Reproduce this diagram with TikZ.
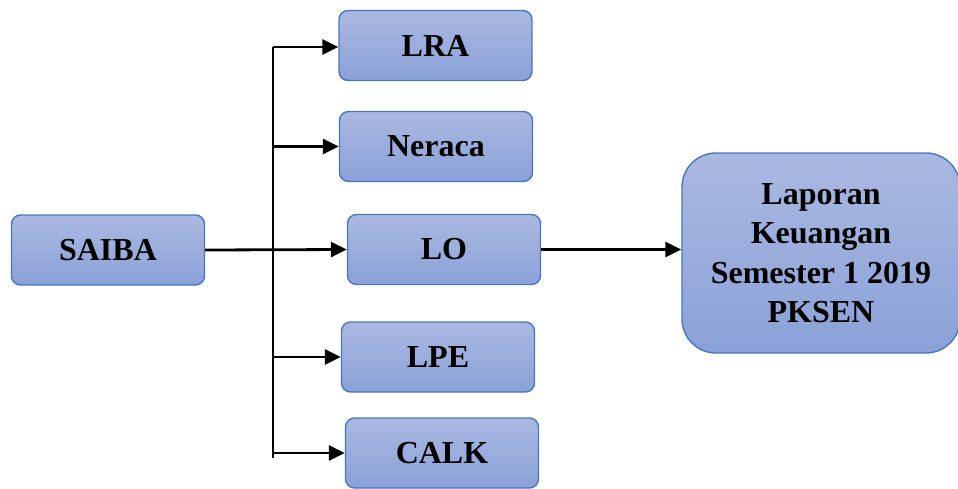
\documentclass[tikz,border=0pt]{standalone}
\usepackage{fontspec}
\setmainfont{Liberation Serif}
\usetikzlibrary{arrows.meta}
\definecolor{boxtop}{HTML}{AAB9E1}
\definecolor{boxbot}{HTML}{8AA1D8}
\definecolor{boxline}{HTML}{4A76C6}
\tikzset{
  box/.style={draw=boxline, line width=1.4pt, top color=boxtop, bottom color=boxbot,
    rounded corners=9pt, minimum width=193pt, minimum height=70pt, inner sep=0pt,
    font=\fontsize{32}{39.5}\selectfont\bfseries, align=center},
  bigbox/.style={box, rounded corners=34pt, minimum width=278pt, minimum height=200pt},
  conn/.style={line width=2.8pt, -{Triangle[length=16pt,width=15pt]}},
  trunk/.style={line width=1.7pt}
}
\begin{document}
\begin{tikzpicture}[x=1pt,y=-1pt]
\useasboundingbox (0,0) rectangle (958,488);
\node[box] (saiba) at (108,250) {SAIBA};
\node[box] (lra) at (435.5,45.5) {LRA};
\node[box] (neraca) at (436,146.5) {Neraca};
\node[box] (lo) at (444,249.5) {LO};
\node[box] (lpe) at (438,357) {LPE};
\node[box] (calk) at (442,453) {CALK};
\node[bigbox] (lk) at (821,253) {Laporan\\Keuangan\\Semester 1 2019\\PKSEN};
\coordinate (ttop) at (273,47);
\coordinate (tbot) at (273,458);
\draw[trunk] (ttop) -- (tbot);
\draw[conn] (ttop) -- (lra.west |- ttop);
\draw[conn] (ttop |- neraca.west) -- (neraca.west);
\draw[conn] (saiba.east) -- (lo.west);
\draw[conn] (ttop |- lpe.west) -- (lpe.west);
\draw[conn] (ttop |- calk.west) -- (calk.west);
\draw[conn] (lo.east) -- (lo.east -| lk.west);
\end{tikzpicture}
\end{document}
